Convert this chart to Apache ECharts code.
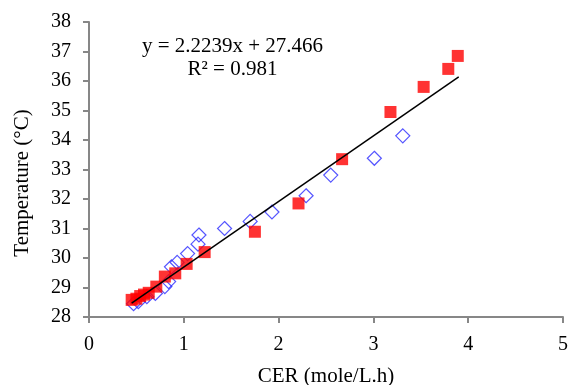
<!DOCTYPE html>
<html><head><meta charset="utf-8">
<script src="https://cdn.jsdelivr.net/npm/echarts@6/dist/echarts.min.js"></script>
<style>html,body{margin:0;padding:0;background:#fff}#c{width:569px;height:385px}</style>
</head><body><div id="c"></div>
<script>
// Series A (red filled squares)
const redX = [0.45, 0.50, 0.54, 0.58, 0.63, 0.71, 0.80, 0.91, 1.03, 1.22, 1.75, 2.21, 2.67, 3.18, 3.53, 3.79, 3.89];
const redY = [28.58, 28.62, 28.71, 28.76, 28.82, 29.03, 29.37, 29.48, 29.80, 30.20, 30.89, 31.85, 33.35, 34.95, 35.80, 36.41, 36.85];
// Series B (blue hollow diamonds)
const blueX = [0.47, 0.52, 0.61, 0.70, 0.80, 0.84, 0.87, 0.93, 1.04, 1.15, 1.16, 1.43, 1.70, 1.93, 2.29, 2.55, 3.01, 3.31];
const blueY = [28.45, 28.52, 28.69, 28.80, 29.03, 29.20, 29.70, 29.85, 30.15, 30.47, 30.78, 31.00, 31.24, 31.56, 32.11, 32.81, 33.38, 34.14];
// Trend line endpoints
const trendX = [0.45, 3.90];
const trendY = [28.47, 36.14];
const xTicks = [0, 1, 2, 3, 4, 5];
const yTicks = [28, 29, 30, 31, 32, 33, 34, 35, 36, 37, 38];
const eqText = 'y = 2.2239x + 27.466';
const r2Text = 'R² = 0.981';
const xTitle = 'CER (mole/L.h)';
const yTitle = 'Temperature (°C)';

const zip = (a, b) => a.map((v, i) => [v, b[i]]);
const font = '"Liberation Serif", "Times New Roman", serif';
const axisColor = '#878787';
const chart = echarts.init(document.getElementById('c'), null, {renderer: 'canvas'});
chart.setOption({
  animation: false,
  backgroundColor: '#fff',
  grid: {left: 89, right: 6, top: 22, bottom: 68, containLabel: false, outerBoundsMode: 'none'},
  xAxis: {
    type: 'value', min: xTicks[0], max: xTicks[xTicks.length - 1], interval: 1,
    name: xTitle, nameLocation: 'middle', nameGap: 49,
    nameTextStyle: {fontFamily: font, fontSize: 21, color: '#000'},
    axisLine: {lineStyle: {color: axisColor, width: 2}},
    axisTick: {show: true, length: 6, lineStyle: {color: axisColor, width: 2}},
    axisLabel: {fontFamily: font, fontSize: 20, color: '#000', margin: 18},
    splitLine: {show: false}
  },
  yAxis: {
    type: 'value', min: yTicks[0], max: yTicks[yTicks.length - 1], interval: 1,
    axisLine: {show: true, lineStyle: {color: axisColor, width: 2}},
    axisTick: {show: true, length: 6, lineStyle: {color: axisColor, width: 2}},
    axisLabel: {fontFamily: font, fontSize: 20, color: '#000', margin: 18},
    splitLine: {show: false}
  },
  graphic: [
    {type: 'text', x: 232.5, y: 36, style: {text: eqText, font: '21px ' + font, fill: '#000', textAlign: 'center', textVerticalAlign: 'top'}},
    {type: 'text', x: 232.5, y: 59, style: {text: r2Text, font: '21px ' + font, fill: '#000', textAlign: 'center', textVerticalAlign: 'top'}},
    {type: 'text', x: 22, y: 183, rotation: Math.PI / 2, style: {text: yTitle, font: '21px ' + font, fill: '#000', textAlign: 'center', textVerticalAlign: 'middle'}}
  ],
  series: [
    {type: 'scatter', data: zip(blueX, blueY), symbol: 'diamond', symbolSize: 14,
     itemStyle: {color: 'rgba(0,0,0,0)', borderColor: '#2b2bff', borderWidth: 1.2}, z: 2},
    {type: 'scatter', data: zip(redX, redY), symbol: 'rect', symbolSize: 12,
     itemStyle: {color: '#ff0000'}, z: 3},
    {type: 'line', data: zip(trendX, trendY), symbol: 'none',
     lineStyle: {color: '#000', width: 1.5}, z: 4}
  ]
});
</script></body></html>
